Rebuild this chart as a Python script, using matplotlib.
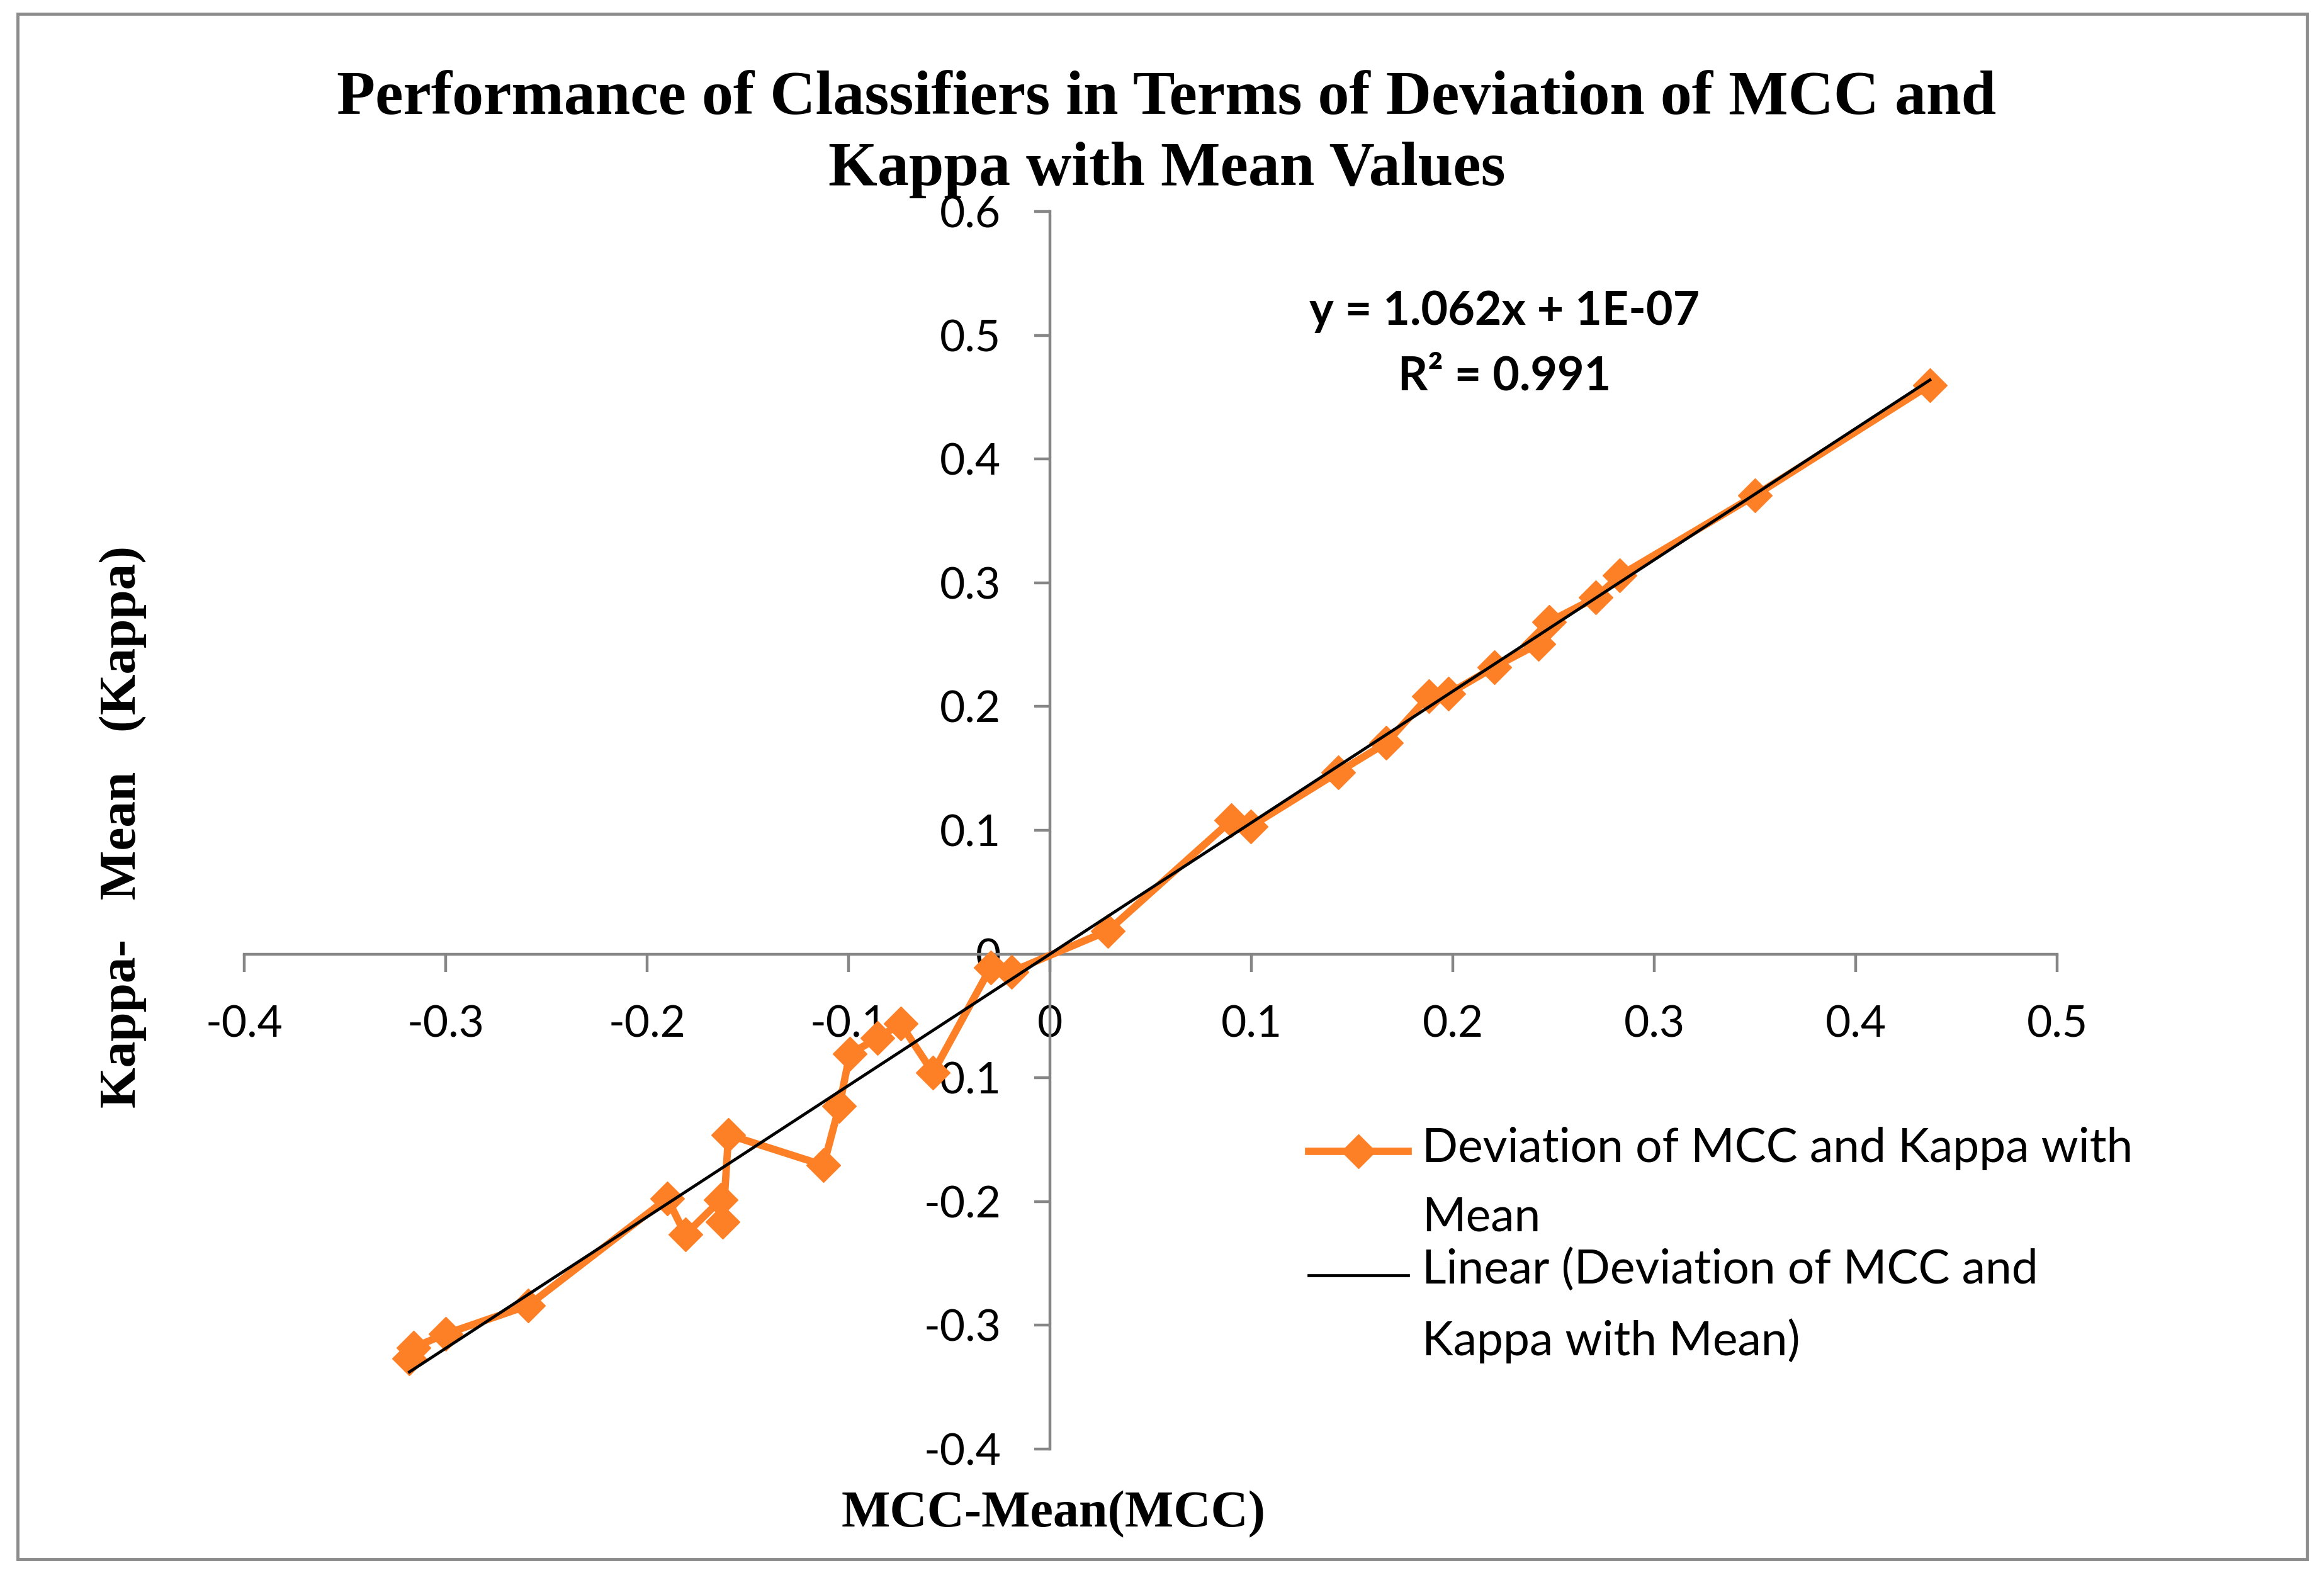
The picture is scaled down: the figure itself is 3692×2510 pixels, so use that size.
import numpy as np
import matplotlib
matplotlib.use("Agg")
import matplotlib.pyplot as plt
from matplotlib.lines import Line2D
from matplotlib.patches import Rectangle

# deviation of each classifier's MCC / Kappa from the mean
mcc_dev = [-0.318, -0.316, -0.300, -0.259, -0.190, -0.181, -0.1635, -0.1624,
           -0.1596, -0.1124, -0.1046, -0.0994, -0.0856, -0.0742, -0.0581,
           -0.0294, -0.0191, 0.0288, 0.090, 0.0996, 0.143, 0.1669, 0.1881,
           0.1977, 0.2207, 0.2425, 0.2479, 0.2709, 0.2829, 0.3501, 0.4368]
kappa_dev = [-0.327, -0.318, -0.307, -0.284, -0.1975, -0.2267, -0.1987, -0.2162,
             -0.1461, -0.1707, -0.1228, -0.0808, -0.0679, -0.0563, -0.0959,
             -0.0107, -0.0142, 0.0188, 0.108, 0.1031, 0.1469, 0.1706, 0.2085,
             0.2102, 0.232, 0.2508, 0.2686, 0.288, 0.3059, 0.3707, 0.4599]

# linear trendline as reported on the chart
slope = 1.062
intercept = 1e-07
r_squared = 0.991

x_ticks = [-0.4, -0.3, -0.2, -0.1, 0.0, 0.1, 0.2, 0.3, 0.4, 0.5]
x_tick_labels = ["-0.4", "-0.3", "-0.2", "-0.1", "0", "0.1", "0.2", "0.3", "0.4", "0.5"]
y_ticks = [-0.4, -0.3, -0.2, -0.1, 0.0, 0.1, 0.2, 0.3, 0.4, 0.5, 0.6]
y_tick_labels = ["-0.4", "-0.3", "-0.2", "-0.1", "0", "0.1", "0.2", "0.3", "0.4", "0.5", "0.6"]

series_label = "Deviation of MCC and Kappa with\nMean"
trend_label = "Linear (Deviation of MCC and\nKappa with Mean)"

orange = "#FD7F26"
axis_grey = "#868686"
sans = ["Lato", "DejaVu Sans"]
serif = ["Liberation Serif", "DejaVu Serif"]

plt.rcParams["font.family"] = sans
plt.rcParams["axes.unicode_minus"] = False

W, H = 3692, 2510
fig = plt.figure(figsize=(W / 100, H / 100), dpi=100)
ax = fig.add_axes([0.1051, 0.0829, 0.7801, 0.7832])

ax.plot(mcc_dev, kappa_dev, color=orange, lw=8.4, marker="D", ms=27,
        mec=orange, mew=1, zorder=3)
fit_x = np.array([min(mcc_dev), max(mcc_dev)])
ax.plot(fit_x, slope * fit_x + intercept, color="black", lw=3.4, zorder=4)

ax.set_xlim(-0.4, 0.5)
ax.set_ylim(-0.4, 0.6)
ax.set_xticks(x_ticks)
ax.set_xticklabels(x_tick_labels)
ax.set_yticks(y_ticks)
ax.set_yticklabels(y_tick_labels)

for side in ["top", "right"]:
    ax.spines[side].set_visible(False)
for side in ["left", "bottom"]:
    ax.spines[side].set_position(("data", 0))
    ax.spines[side].set_color(axis_grey)
    ax.spines[side].set_linewidth(3.2)
ax.tick_params(axis="x", direction="out", length=20, width=3.2, color=axis_grey,
               pad=38, labelsize=50)
ax.tick_params(axis="y", direction="out", length=18, width=3.2, color=axis_grey,
               pad=38, labelsize=50)

# outer chart frame
fig.patches.append(Rectangle((28 / W, 1 - 2477 / H), (3665 - 28) / W, (2477 - 22) / H,
                             transform=fig.transFigure, fill=False,
                             ec="#8c8c8c", lw=3.5))

# multi-line texts: va="baseline" pins the last line
fig.text(0.502, 1 - 294 / H,
         "Performance of Classifiers in Terms of Deviation of MCC and\nKappa with Mean Values",
         ha="center", va="baseline", family=serif, weight="bold", size=72,
         linespacing=1.33)

fig.text(0.6473, 1 - 620 / H, f"y = {slope}x + 1E-07\nR² = {r_squared}",
         ha="center", va="baseline", weight="bold", size=53, linespacing=1.62)

fig.text(0.4534, 0.0339, "MCC-Mean(MCC)", ha="center", va="baseline",
         family=serif, weight="bold", size=59)
fig.text(0.0582, 0.4765, "Kappa-   Mean   (Kappa)", rotation=90,
         rotation_mode="anchor", ha="center", va="baseline",
         family=serif, weight="bold", size=60)

# legend (handle sits next to the first line of each entry)
hx = np.array([2079, 2158, 2237]) / W
fig.add_artist(Line2D(hx, [1 - 1829 / H] * 3, transform=fig.transFigure,
                      color=orange, lw=8.4, marker="D", ms=27, mec=orange,
                      mew=1, markevery=[1]))
fig.add_artist(Line2D(hx, [1 - 2026 / H] * 3, transform=fig.transFigure,
                      color="black", lw=3.4))
fig.text(2259 / W, 1 - 1955 / H, series_label, va="baseline", size=54,
         linespacing=1.72)
fig.text(2259 / W, 1 - 2153 / H, trend_label, va="baseline", size=54,
         linespacing=1.72)

fig.savefig("out.png", dpi=100)
